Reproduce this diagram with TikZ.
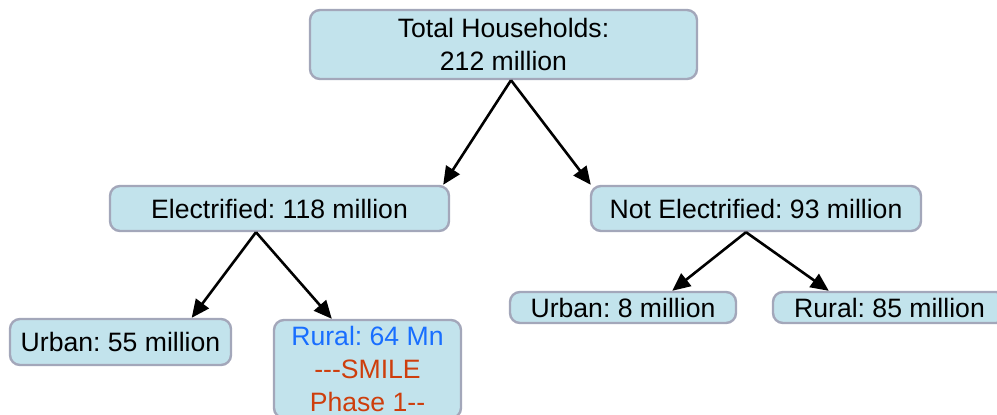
\documentclass[tikz,border=0pt]{standalone}
\usepackage{fontspec}
\setmainfont{Liberation Sans}
\usetikzlibrary{arrows.meta}
\frenchspacing

\definecolor{boxfill}{RGB}{194,227,236}
\definecolor{boxline}{RGB}{163,167,186}
\definecolor{ruralblue}{RGB}{24,110,255}
\definecolor{smilered}{RGB}{206,62,12}

\begin{document}
\begin{tikzpicture}[x=0.5pt, y=-0.5pt,
    box/.style={draw=boxline, fill=boxfill, line width=1.2pt, rounded corners=5pt,
                inner sep=0pt, align=center, font=\fontsize{13.3}{16.4}\selectfont},
    arr/.style={-{Triangle[length=9pt,width=8pt]}, line width=1.3pt}]

    \useasboundingbox (0,0) rectangle (997,414);
    \clip (0,0) rectangle (997,414);

    \node [box, minimum width=193.5pt, minimum height=34.5pt] (total) at (503.5,44.5) {Total Households:\\212 million};

    \node [box, minimum width=169.5pt, minimum height=22.5pt] (elec) at (279.5,208.5) {Electrified: 118 million};
    \node [box, minimum width=165pt, minimum height=22.5pt] (notelec) at (756,208.5) {Not Electrified: 93 million};

    \node [box, minimum width=110.5pt, minimum height=23pt] (urbanA) at (120.5,342) {Urban: 55 million};
    \node [box, minimum width=93.5pt, minimum height=49pt] (ruralA) at (367.5,369)
        {\textcolor{ruralblue}{Rural: 64 Mn}\\\textcolor{smilered}{-{}-{}-SMILE}\\\textcolor{smilered}{Phase 1-{}-}};

    \node [box, minimum width=113pt, minimum height=15.5pt] (urbanB) at (623,307.5) {Urban: 8 million};
    \node [box, minimum width=116.5pt, minimum height=15.5pt] (ruralB) at (889.5,307.5) {Rural: 85 million};

    \draw [arr] ([xshift=3.75pt]total.south) -- ([xshift=-3.5pt]elec.north east);
    \draw [arr] ([xshift=3.75pt]total.south) -- ([xshift=0.5pt]notelec.north west);

    \draw [arr] ([xshift=-11.75pt]elec.south) -- ([xshift=-20.25pt]urbanA.north east);
    \draw [arr] ([xshift=-11.75pt]elec.south) -- ([xshift=29.5pt]ruralA.north west);

    \draw [arr] ([xshift=-5pt]notelec.south) -- ([xshift=-32.5pt]urbanB.north east);
    \draw [arr] ([xshift=-5pt]notelec.south) -- ([xshift=28.5pt]ruralB.north west);
\end{tikzpicture}
\end{document}
